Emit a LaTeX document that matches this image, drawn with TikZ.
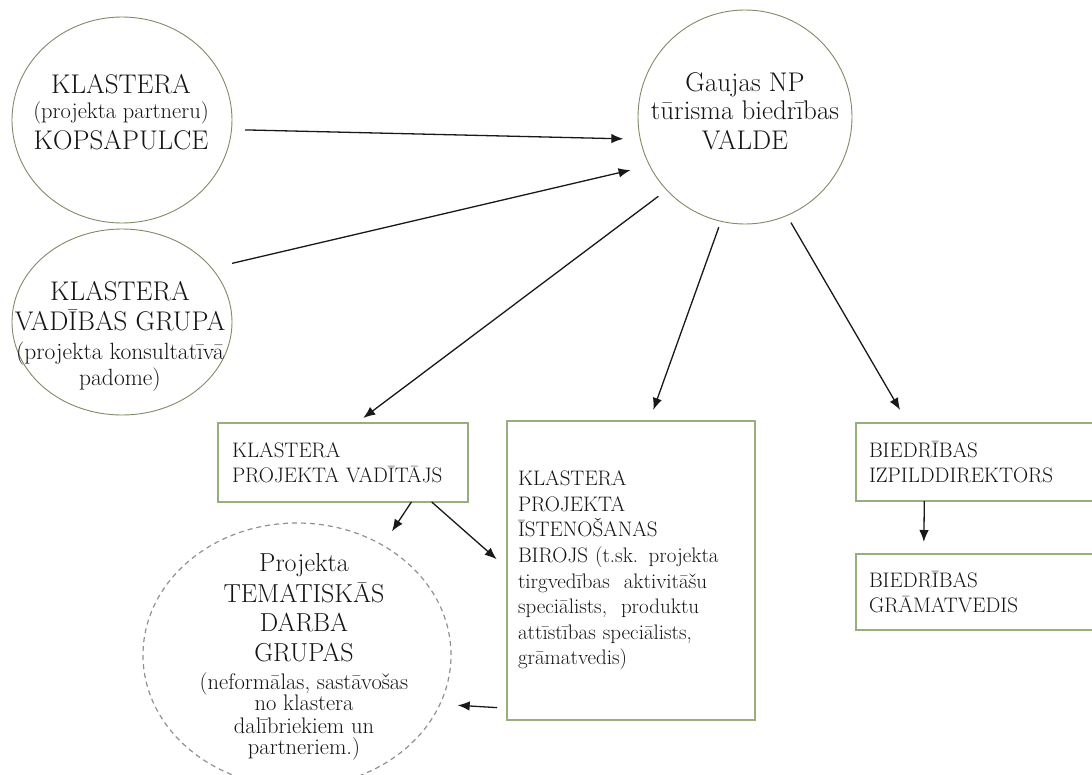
\documentclass[tikz,border=0pt]{standalone}
\usepackage{fontspec}
\usetikzlibrary{shapes.geometric,arrows.meta}
\definecolor{circ}{RGB}{125,140,105}
\definecolor{boxc}{RGB}{150,175,125}
\definecolor{dashc}{RGB}{145,145,145}
\definecolor{txt}{RGB}{20,20,20}
\begin{document}
\begin{tikzpicture}[x=1pt,y=-1pt,
 oval/.style={ellipse,draw=circ,line width=0.9pt,inner sep=0pt,outer sep=0pt},
 dashoval/.style={ellipse,draw=dashc,line width=1.2pt,dash pattern=on 5pt off 4pt,inner sep=0pt,outer sep=0pt},
 boxnode/.style={rectangle,draw=boxc,line width=1.2pt,outer sep=0pt,inner ysep=0pt,align=left,text=txt,font=\fontsize{21}{25}\selectfont},
 ovaltext/.style={align=center,text=txt,inner sep=0pt},
 arr/.style={line width=1.3pt,draw=black!90,-{Latex[length=12pt,width=9.5pt]}},
]
\useasboundingbox (0,0) rectangle (1092,774);
\clip (0,0) rectangle (1092,774);
\fill[white] (0,0) rectangle (1092,774);

% ovals
\node[oval,minimum width=220pt,minimum height=206pt] (c1) at (122,120) {};
\node[oval,minimum width=220pt,minimum height=186pt] (c2) at (122,322) {};
\node[oval,minimum width=214pt,minimum height=214pt] (c3) at (745,117) {};
\node[dashoval,minimum width=308pt,minimum height=264pt] (d) at (297,655) {};

\node[ovaltext,font=\fontsize{27}{28}\selectfont] (c1t) at (121,112)
 {KLASTERA\\[-3pt]{\fontsize{22.5}{24}\selectfont (projekta partneru)}\\[3pt]KOPSAPULCE};
\node[ovaltext,font=\fontsize{27}{30}\selectfont] (c2t) at (120,336)
 {KLASTERA\\[0.7pt]VADĪBAS GRUPA\\[-1.4pt]{\fontsize{23.5}{26}\selectfont (projekta konsultatīvā}\\[-4.3pt]{\fontsize{23.5}{26}\selectfont padome)}};
\node[ovaltext,font=\fontsize{27}{29}\selectfont] (c3t) at (745,111)
 {Gaujas NP\\[-0.7pt]tūrisma biedrības\\[1pt]VALDE};
\node[ovaltext,font=\fontsize{26}{30}\selectfont] (dt) at (304,657)
 {Projekta\\[1pt]TEMATISKĀS\\[-1pt]DARBA\\GRUPAS\\[-2.4pt]{\fontsize{22.5}{24}\selectfont (neformālas, sastāvošas}\\[-8.3pt]{\fontsize{22.5}{24}\selectfont no klastera}\\[-7.7pt]{\fontsize{22.5}{24}\selectfont dalībriekiem un}\\[-8.3pt]{\fontsize{22.5}{24}\selectfont partneriem.)}};

% boxes
\node[boxnode,text width=222pt,inner xsep=14pt,minimum height=79pt] (b1) at (343,462.5)
 {KLASTERA\\PROJEKTA VADĪTĀJS};
\node[boxnode,text width=226pt,inner xsep=11pt,minimum height=299pt,font=\fontsize{21}{25.6}\selectfont] (b2) at (631,570.5)
 {KLASTERA\\PROJEKTA\\ĪSTENOŠANAS\\BIROJS (t.sk. projekta\\tirgvedības\ \ aktivitāšu\\speciālists,\ \ produktu\\attīstības\ speciālists,\\grāmatvedis)};
\node[boxnode,text width=218pt,inner xsep=13pt,minimum height=78pt] (b3) at (978,462)
 {BIEDRĪBAS\\IZPILDDIREKTORS};
\node[boxnode,text width=218pt,inner xsep=13pt,minimum height=76pt] (b4) at (978,592)
 {BIEDRĪBAS\\GRĀMATVEDIS};

% connectors
\draw[arr,shorten <=13.5pt,shorten >=17pt] (c1.-5.6) -- (c3.-168.5);
\draw[arr,shorten <=21pt,shorten >=19.6pt] (c2.31.2) -- (c3.-153.7);
\draw[arr,shorten <=10.5pt,shorten >=8.3pt] (c3.-137.2) -- (b1.71.3);
\draw[arr,shorten <=6.3pt,shorten >=11.7pt] (c3.-103.5) -- (b2.83.1);
\draw[arr,shorten <=8.2pt,shorten >=15.1pt] (c3.-67.6) -- (b3.151);
\draw[arr,shorten >=12pt] (b3.-144.66) -- (b4.145.36);
\draw[arr,shorten >=16.8pt] (b1.-30.5) -- (d.52.6);
\draw[arr,shorten >=13.75pt] (b1.-24.4) -- (b2.179.7);
\draw[arr,shorten <=10pt,shorten >=17.8pt] (b2.-132.8) -- (d.-19.3);
\end{tikzpicture}
\end{document}
